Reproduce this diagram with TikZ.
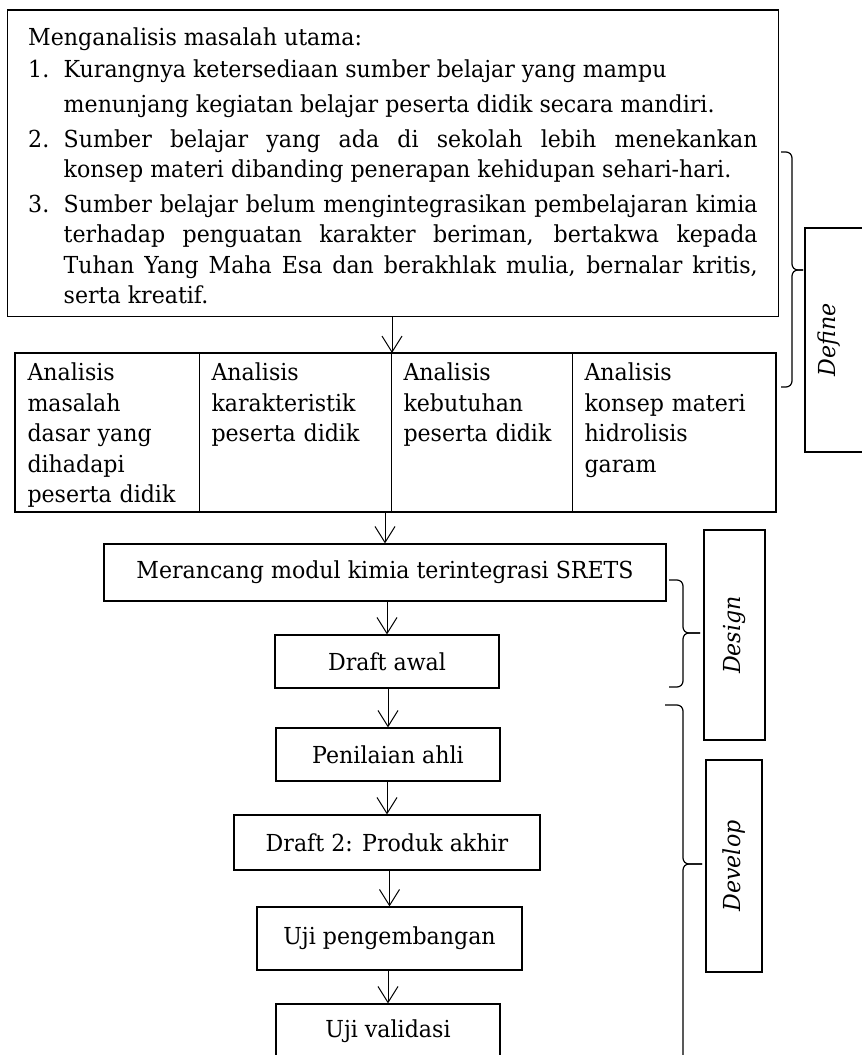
\documentclass[tikz,border=0pt]{standalone}
\usepackage{fontspec}
\setmainfont[FakeStretch=0.945]{DejaVu Serif}
\usetikzlibrary{arrows.meta}

\newcommand{\butir}[2]{\par\hangindent=17.75pt\hangafter=1\noindent\makebox[17.75pt][l]{#1}#2\par}

\tikzset{
  flowbox/.style={draw, line width=0.6pt, inner xsep=4pt},
  cell/.style={draw, line width=0.5pt, anchor=north west, inner xsep=6pt,
    inner ysep=0pt, align=left, text height=13.5pt, text depth=65.5pt},
  flowarrow/.style={-{Straight Barb[length=8pt,width=10pt]}, line width=0.5pt},
  brace/.style={rounded corners=3pt, line width=0.6pt},
  phase/.style={draw, rotate=90, font=\itshape, line width=0.6pt}
}

\begin{document}
\fontsize{11.7pt}{15.25pt}\selectfont
\begin{tikzpicture}[x=0.5pt,y=-0.5pt]
  \useasboundingbox (0,0) rectangle (862,1055);
  \fill[white] (0,0) rectangle (862,1055);
  \clip (0,0) rectangle (862,1055);

  % define
  \node[draw, line width=0.6pt, anchor=north west, text width=364.75pt,
    inner xsep=10.5pt, inner ysep=0pt, text height=17.85pt, text depth=135.5pt,
    align=justify] (masalah) at (6.6,9.3) {%
    \parskip=2pt
    \noindent Menganalisis masalah utama:\vspace{-1.25pt}
    \butir{1.}{Kurangnya ketersediaan sumber belajar yang mampu\\[2.25pt]
      menunjang kegiatan belajar peserta didik secara mandiri.}
    \butir{2.}{Sumber belajar yang ada di sekolah lebih menekankan\linebreak
      konsep materi dibanding penerapan kehidupan sehari-hari.}
    \butir{3.}{Sumber belajar belum mengintegrasikan pembelajaran kimia\linebreak
      terhadap penguatan karakter beriman, bertakwa kepada\linebreak
      Tuhan Yang Maha Esa dan berakhlak mulia, bernalar kritis,\linebreak
      serta kreatif.}};

  \node[cell, text width=80pt] (c1) at (15,353)
    {Analisis\\masalah\\dasar yang\\dihadapi\\peserta didik};
  \node[cell, text width=84pt] (c2) at (199,353)
    {Analisis\\karakteristik\\peserta didik};
  \node[cell, text width=78.5pt] (c3) at (391,353)
    {Analisis\\kebutuhan\\peserta didik};
  \node[cell, text width=89.5pt] (c4) at (572,353)
    {Analisis\\konsep materi\\hidrolisis\\garam};
  \draw[line width=1pt] (c1.north west) rectangle (c4.south east);

  % design + develop
  \node[flowbox, minimum width=281pt, minimum height=28.5pt] (rancang) at (385,572.5)
    {Merancang modul kimia terintegrasi SRETS};
  \node[flowbox, minimum width=112pt, minimum height=26.5pt] (draftawal) at (387,661.5)
    {Draft awal};
  \node[flowbox, minimum width=112pt, minimum height=26.5pt] (nilai) at (388,754.5)
    {Penilaian ahli};
  \node[flowbox, minimum width=153pt, minimum height=27.5pt] (draftdua) at (387,842.5)
    {Draft 2: Produk akhir};
  \node[flowbox, minimum width=132.5pt, minimum height=31.5pt] (ujikembang) at (389.5,938.5)
    {Uji pengembangan};
  \node[flowbox, minimum width=112pt, minimum height=27.5pt] (ujivalid) at (388,1031.5)
    {Uji validasi};

  \draw[flowarrow] (masalah.south -| c2.north east) -- (c2.north east);
  \draw[flowarrow] (c2.south -| rancang.north) -- (rancang.north);
  \draw[flowarrow] (rancang.south -| draftawal.north) -- (draftawal.north);
  \draw[flowarrow] (draftawal.south -| nilai.north) -- (nilai.north);
  \draw[flowarrow] (nilai.south -| draftdua.north) -- (draftdua.north);
  \draw[flowarrow] (draftdua.south -| ujikembang.north) -- (ujikembang.north);
  \draw[flowarrow] (ujikembang.south -| ujivalid.north) -- (ujivalid.north);

  % phases
  \node[phase, anchor=base, minimum width=112pt, inner ysep=0pt,
    text height=15pt, text depth=30pt] (define) at (835,340) {Define};
  \node[phase, minimum width=105pt, minimum height=30.5pt] (design) at (734.5,635) {Design};
  \node[phase, minimum width=106pt, minimum height=28pt] (develop) at (734,866) {Develop};

  \draw[brace] (781,152) -- (792,152) -- (792,270) -- (803,270);
  \draw[brace] (803,270) -- (792,270) -- (792,387) -- (781,387);
  \draw[brace] (669,580) -- (683,580) -- (683,633) -- (700,633);
  \draw[brace] (700,633) -- (683,633) -- (683,687) -- (669,687);
  \draw[brace] (665,705) -- (683,705) -- (683,864) -- (702,864);
  \draw[brace] (702,864) -- (683,864) -- (683,1070);
\end{tikzpicture}
\end{document}
